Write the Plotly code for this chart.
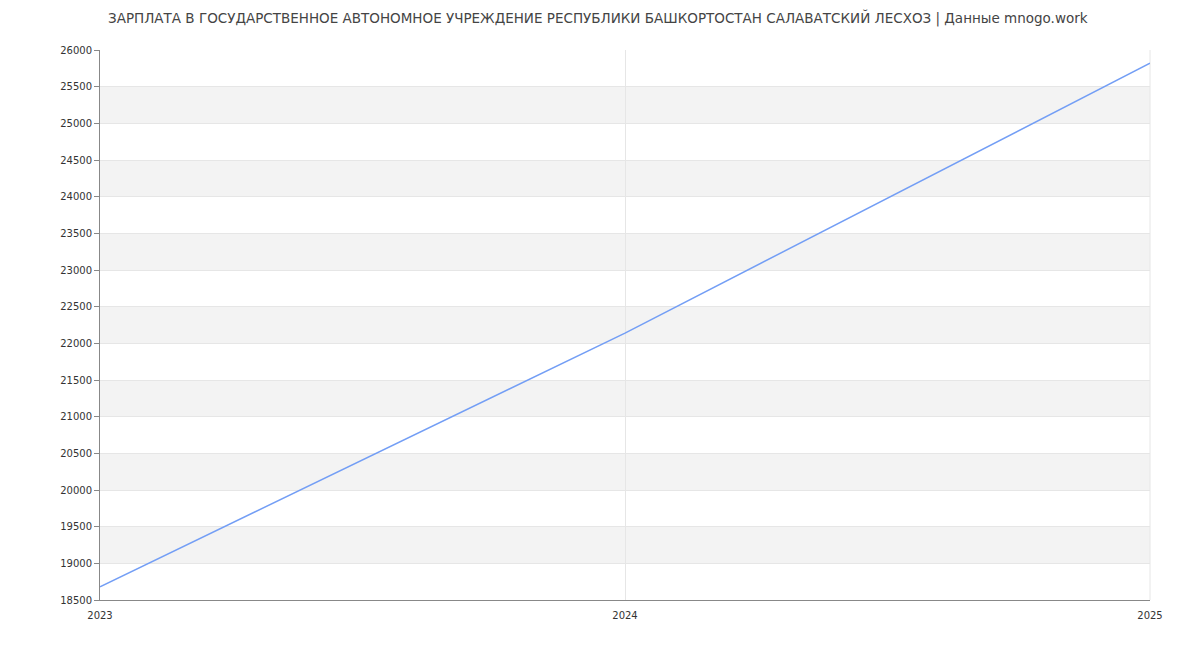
import plotly.graph_objects as go

# data
years = [2023, 2024, 2025]
salary = [18680, 22140, 25820]
y_ticks = list(range(18500, 26001, 500))

title = ("ЗАРПЛАТА В ГОСУДАРСТВЕННОЕ АВТОНОМНОЕ УЧРЕЖДЕНИЕ РЕСПУБЛИКИ "
         "БАШКОРТОСТАН САЛАВАТСКИЙ ЛЕСХОЗ | Данные mnogo.work")

fig = go.Figure(go.Scatter(
    x=years,
    y=salary,
    mode='lines',
    line=dict(color='#739ef5', width=1.5),
    hoverinfo='x+y',
))

# alternating grey bands
shapes = []
for i, t in enumerate(y_ticks[:-1]):
    if i % 2 == 1:
        shapes.append(dict(type='rect', xref='paper', yref='y', x0=0, x1=1,
                           y0=t, y1=y_ticks[i + 1], fillcolor='#f3f3f3',
                           line=dict(width=0), layer='below'))
# right border
shapes.append(dict(type='line', xref='paper', yref='paper', x0=1, x1=1,
                   y0=0, y1=1, line=dict(color='#e6e6e6', width=1), layer='below'))

fig.update_layout(
    width=1200, height=650,
    title=dict(text=title, x=0.4915, xanchor='center', y=0.992, yanchor='top',
               font=dict(family='DejaVu Sans', size=13.5, color='#444')),
    margin=dict(l=92, r=58, t=42, b=58),
    plot_bgcolor='white',
    paper_bgcolor='white',
    font=dict(family='DejaVu Sans', size=10, color='#333'),
    showlegend=False,
    shapes=shapes,
    xaxis=dict(
        range=[2023, 2025], tickvals=years, ticktext=[str(y) for y in years],
        showgrid=True, gridcolor='#e6e6e6', zeroline=False,
        showline=True, linecolor='#888', linewidth=1,
        ticks='', tickfont=dict(size=10, color='#333'),
        ticklabelstandoff=6,
    ),
    yaxis=dict(
        range=[18500, 26000], tickvals=y_ticks,
        ticktext=[str(t) for t in y_ticks],
        showgrid=True, gridcolor='#e6e6e6', zeroline=False,
        showline=True, linecolor='#888', linewidth=1,
        ticks='outside', ticklen=5, tickcolor='#888',
        tickfont=dict(size=10, color='#333'),
    ),
)

fig.write_html("out.html")
